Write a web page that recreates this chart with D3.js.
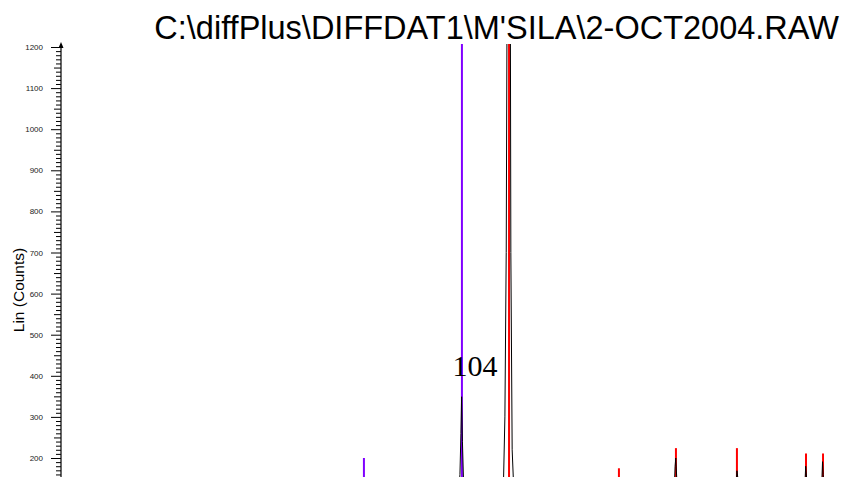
<!DOCTYPE html>
<html>
<head>
<meta charset="utf-8">
<script src="https://cdn.jsdelivr.net/npm/d3@7"></script>
<style>
  body { margin: 0; background: #fff; }
  svg { display: block; }
</style>
</head>
<body>
<svg id="chart" width="846" height="477"></svg>
<script>
// datos (2-theta en grados, cuentas)
const titulo = "C:\\diffPlus\\DIFFDAT1\\M'SILA\\2-OCT2004.RAW";
const yTicks = [200, 300, 400, 500, 600, 700, 800, 900, 1000, 1100, 1200];

// patron medido (linea negra)
const patronTheta  = [20.0, 26.55, 26.64, 26.70, 26.74, 26.79, 26.86, 26.95,
                      29.15, 29.28, 29.36, 29.44, 29.53, 29.61, 29.66, 29.72, 29.80, 29.92,
                      39.50, 39.62, 39.66, 39.70, 39.76, 39.85,
                      43.30, 43.40, 43.46, 43.56,
                      47.48, 47.56, 47.62, 47.72,
                      48.50, 48.58, 48.62, 48.72, 49.9];
const patronCounts = [90, 100, 160, 260, 349, 240, 140, 100,
                      100, 150, 300, 700, 1800, 2600, 1900, 700, 220, 100,
                      100, 140, 180, 200, 150, 100,
                      100, 169, 150, 100,
                      100, 180, 150, 100,
                      100, 191, 160, 100, 90];

// fichas de referencia (barras)
const cuarzoTheta  = [20.83, 26.76];
const cuarzoCounts = [200, 1500];
const calcitaTheta  = [29.61, 36.26, 39.71, 43.40, 47.58, 48.61];
const calcitaCounts = [1500, 175, 224, 224, 211, 211];

const etiquetaPico = "104";

const svg = d3.select("#chart");

const x = d3.scaleLinear().domain([2.5, 50]).range([61, 846]);
const y = d3.scaleLinear().domain([0, 1200]).range([540.2, 47]);

svg.append("defs").append("clipPath").attr("id", "plotclip")
  .append("rect").attr("x", 61).attr("y", 44).attr("width", 785).attr("height", 433);

// titulo
svg.append("text")
  .attr("x", 839).attr("y", 39)
  .attr("text-anchor", "end")
  .attr("font-family", "Liberation Sans, Arial, sans-serif")
  .attr("font-size", 32.5)
  .text(titulo);

// eje Y
const gAxis = svg.append("g").attr("transform", "translate(61,0)");

const minor = d3.range(160, 1201, 10).filter(v => v % 50 !== 0);
const medium = d3.range(150, 1201, 100);

gAxis.append("g")
  .call(d3.axisLeft(y).tickValues(minor).tickSize(5).tickFormat(""))
  .call(g => g.select(".domain").remove());
gAxis.append("g")
  .call(d3.axisLeft(y).tickValues(medium).tickSize(7).tickFormat(""))
  .call(g => g.select(".domain").remove());
gAxis.append("g")
  .call(d3.axisLeft(y).tickValues(yTicks).tickSize(10).tickPadding(8).tickFormat(d3.format("d")))
  .call(g => g.select(".domain").remove())
  .call(g => g.selectAll("text")
    .attr("font-family", "Liberation Sans, Arial, sans-serif")
    .attr("font-size", 8)
    .attr("fill", "#222"));
gAxis.selectAll(".tick line").attr("stroke", "#000");

gAxis.append("line")
  .attr("x1", 0).attr("x2", 0).attr("y1", 477).attr("y2", 44)
  .attr("stroke", "#000").attr("stroke-width", 1.2);
gAxis.append("path")
  .attr("d", "M-2.5,48 L0,42 L2.5,48 Z")
  .attr("fill", "#000");

svg.append("text")
  .attr("transform", "translate(24,290) rotate(-90)")
  .attr("text-anchor", "middle")
  .attr("font-family", "Liberation Sans, Arial, sans-serif")
  .attr("font-size", 15.5)
  .text("Lin (Counts)");

const plot = svg.append("g").attr("clip-path", "url(#plotclip)");

// barras de referencia
const barras = (thetas, counts, color) => {
  plot.append("g").selectAll("line")
    .data(thetas.map((t, i) => ({ t: t, c: counts[i] })))
    .join("line")
    .attr("x1", d => x(d.t)).attr("x2", d => x(d.t))
    .attr("y1", y(0)).attr("y2", d => y(d.c))
    .attr("stroke", color).attr("stroke-width", 2);
};
barras(cuarzoTheta, cuarzoCounts, "#8000ff");
barras(calcitaTheta, calcitaCounts, "#ff0000");

// patron
const linea = d3.line()
  .x((d, i) => x(patronTheta[i]))
  .y(d => y(d));
plot.append("path")
  .datum(patronCounts)
  .attr("d", linea)
  .attr("fill", "none")
  .attr("stroke", "#000")
  .attr("stroke-width", 1);

svg.append("text")
  .attr("x", 475).attr("y", 376)
  .attr("text-anchor", "middle")
  .attr("font-family", "Liberation Serif, Times New Roman, serif")
  .attr("font-size", 30)
  .text(etiquetaPico);
</script>
</body>
</html>
